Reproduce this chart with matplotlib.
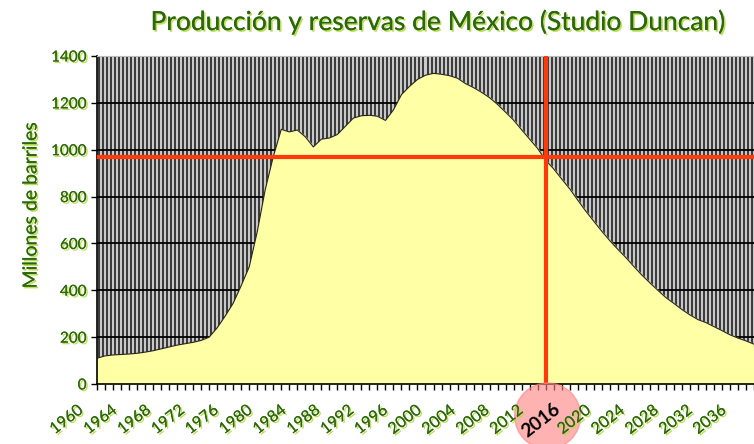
import numpy as np
import matplotlib
matplotlib.use('Agg')
import matplotlib.pyplot as plt
import matplotlib.patheffects as pe
from matplotlib.patches import Circle
from matplotlib.transforms import IdentityTransform

# datos (millones de barriles por año)
years = list(range(1960, 2043))
values = [110, 120, 124, 126, 128, 131, 136, 142, 150, 158,
          166, 172, 178, 186, 200, 240, 290, 345, 420, 500,
          650, 830, 970, 1087, 1076, 1084, 1055, 1012, 1045, 1050,
          1065, 1100, 1135, 1145, 1147, 1143, 1125, 1170, 1235, 1270,
          1300, 1318, 1326, 1322, 1316, 1305, 1282, 1265, 1245, 1222,
          1193, 1160, 1126, 1085, 1045, 1005, 955, 918, 875, 833,
          785, 738, 695, 652, 612, 575, 540, 502, 465, 432,
          400, 369, 344, 318, 295, 275, 262, 245, 228, 210,
          196, 184, 170]
label_years = list(range(1960, 2040, 4))
y_ticks = [0, 200, 400, 600, 800, 1000, 1200, 1400]
mark_year = 2016
mark_level = 970

green = '#2b6612'
glow = [pe.withSimplePatchShadow(offset=(1.2, -1.2), shadow_rgbFace='#b5dc3c', alpha=0.9),
        pe.Normal()]

plt.rcParams['font.family'] = ['Lato', 'DejaVu Sans']

fig = plt.figure(figsize=(7.54, 4.44), dpi=100)
ax = fig.add_axes([97/754, 1 - 384/444, 1 - 97/754, (384 - 56)/444])

# fondo rayado
ax.set_facecolor('#cfcfcf')
ax.vlines(np.arange(1960.25, 2043, 0.5), 0, 1400, colors='#3c3c3c', lw=1.5, zorder=0)
for yt in y_ticks[1:]:
    ax.axhline(yt, color='black', lw=1.3, zorder=1)

ax.fill_between(years, values, 0, color='#ffffa6', zorder=2)
ax.plot(years, values, color='#222222', lw=0.8, zorder=3)

ax.axvline(mark_year, color='#ff3a0a', lw=3, zorder=5)
ax.axhline(mark_level, color='#ff3a0a', lw=3, zorder=5)

ax.set_xlim(1960, 2041.9)
ax.set_ylim(0, 1400)

ax.set_yticks(y_ticks)
ax.set_yticklabels([str(v) for v in y_ticks], color=green, fontsize=11)
for t in ax.get_yticklabels():
    t.set_path_effects(glow)

ax.set_xticks(years, minor=True)
ax.set_xticks(label_years)
ax.set_xticklabels([])
ax.tick_params(axis='x', which='both', length=4, width=1, direction='out')
ax.tick_params(axis='y', length=4, width=1, direction='out')

# circulo rosa sobre 2016 (en pixeles)
x_px = ax.transData.transform((mark_year, 0))[0]
fig.patches.append(Circle((x_px + 2, 444 - 416), 33, transform=IdentityTransform(),
                          color='#ff7f7f', alpha=0.6, zorder=0))

# etiquetas del eje x colocadas en pixeles
for yr in label_years:
    tx = ax.transData.transform((yr, 0))[0]
    cx = tx - 30 + (yr - 1960) * 0.45
    big = yr == mark_year
    fig.text(cx, 444 - 420, str(yr), transform=IdentityTransform(),
             rotation=38, rotation_mode='anchor', ha='center', va='center',
             color='black' if big else green,
             fontsize=13.5 if big else 11.5,
             fontweight='bold' if big else 'normal',
             path_effects=None if big else glow)

for s in ['left', 'bottom']:
    ax.spines[s].set_color('black')
    ax.spines[s].set_linewidth(1.2)
ax.spines['top'].set_color('#bbbbbb')
ax.spines['right'].set_visible(False)

fig.text(438/754, 1 - 22/444, 'Producción y reservas de México (Studio Duncan)',
         ha='center', va='center', fontsize=19, color=green, path_effects=glow)
fig.text(31/754, 1 - 205/444, 'Millones de barriles', rotation=90,
         ha='center', va='center', fontsize=14, color=green, path_effects=glow)

fig.savefig('out.png', dpi=100)
